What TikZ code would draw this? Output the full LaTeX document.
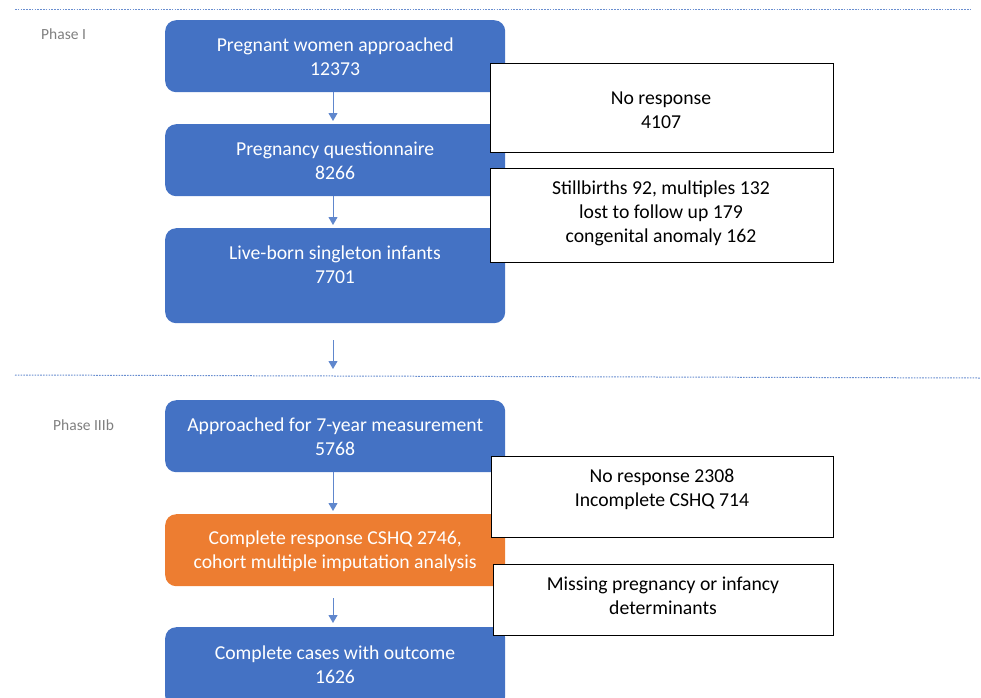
\documentclass[tikz,border=0pt]{standalone}
\usepackage{fontspec}
\setmainfont{Carlito}
\usetikzlibrary{arrows.meta}
\definecolor{obBlue}{HTML}{4472C4}
\definecolor{obOrange}{HTML}{ED7D31}
\definecolor{phGray}{HTML}{7F7F7F}
\begin{document}
\begin{tikzpicture}[x=1pt,y=-1pt,
  boxbase/.style={rounded corners=11pt, minimum width=340pt, inner sep=0pt, anchor=north west},
  bluebox/.style={boxbase, fill=obBlue},
  orangebox/.style={boxbase, fill=obOrange},
  boxtext/.style={text=white, align=center, font=\fontsize{19.7}{24}\selectfont, inner sep=0pt},
  notebox/.style={draw=black, line width=1pt, fill=white, inner sep=0pt, anchor=north west},
  notetext/.style={text=black, align=center, font=\fontsize{19.7}{24}\selectfont, inner sep=0pt},
  phaselbl/.style={text=phGray, font=\fontsize{15.5}{18}\selectfont, inner sep=0pt, anchor=west},
  flowarrow/.style={draw=obBlue!85!white, line width=1pt, -{Triangle[width=9pt,length=8pt]}},
  sepline/.style={draw=obBlue!80!white, line width=1pt, dash pattern=on 1.6pt off 1.2pt}
]
\useasboundingbox (0,0) rectangle (981,697);

% separators
\coordinate (sepAl) at (15,9);
\coordinate (sepAr) at (970,9);
\coordinate (sepBl) at (15,375);
\coordinate (sepBr) at (981,378);
\draw[sepline] (sepAl) -- (sepAr);
\draw[sepline] (sepBl) -- (sepBr);

% phase labels
\node[phaselbl] (ph1) at (41,34) {Phase I};
\node[phaselbl] (ph3) at (53,425) {Phase IIIb};

% main boxes
\node[bluebox, minimum height=72pt] (b1) at (165,20) {};
\node[boxtext] (t1) at ([yshift=-1pt]b1.center) {Pregnant women approached\\12373};
\node[bluebox, minimum height=72pt] (b2) at (165,124) {};
\node[boxtext] (t2) at ([yshift=-1pt]b2.center) {Pregnancy questionnaire\\8266};
\node[bluebox, minimum height=95pt] (b3) at (165,228) {};
\node[boxtext] (t3) at (335,265) {Live-born singleton infants\\7701};
\node[bluebox, minimum height=72pt] (b4) at (165,400) {};
\node[boxtext] (t4) at ([yshift=-1pt]b4.center) {Approached for 7-year measurement\\5768};
\node[orangebox, minimum height=72pt] (b5) at (165,514) {};
\node[boxtext] (t5) at ([yshift=-1pt]b5.center) {Complete response CSHQ 2746,\\cohort multiple imputation analysis};
\node[bluebox, minimum height=80pt] (b6) at (165,627) {};
\node[boxtext] (t6) at (335,665) {Complete cases with outcome\\1626};

% arrows
\coordinate (a3s) at (333,340);
\coordinate (a3e) at (333,369);
\draw[flowarrow, shorten >=3pt] (b1.south -| a3s) -- (b2.north -| a3s);
\draw[flowarrow, shorten >=3pt] (b2.south -| a3s) -- (b3.north -| a3s);
\draw[flowarrow] (a3s) -- (a3e);
\draw[flowarrow, shorten >=3pt] (b4.south -| a3s) -- (b5.north -| a3s);
\draw[flowarrow, shorten >=4pt, shorten <=12pt] (b5.south -| a3s) -- (b6.north -| a3s);

% exclusion boxes
\node[notebox, minimum width=343pt, minimum height=89pt] (n1) at (490,63) {};
\node[notetext] (m1) at (661,110) {No response\\4107};
\node[notebox, minimum width=343pt, minimum height=94pt] (n2) at (490,168) {};
\node[notetext] (m2) at (661,213) {Stillbirths 92, multiples 132\\lost to follow up 179\\congenital anomaly 162};
\node[notebox, minimum width=342pt, minimum height=81pt] (n3) at (491,456) {};
\node[notetext] (m3) at (662,489) {No response 2308\\Incomplete CSHQ 714};
\node[notebox, minimum width=340pt, minimum height=71pt] (n4) at (493,564) {};
\node[notetext] (m4) at (663,596) {Missing pregnancy or infancy\\determinants};
\end{tikzpicture}
\end{document}
